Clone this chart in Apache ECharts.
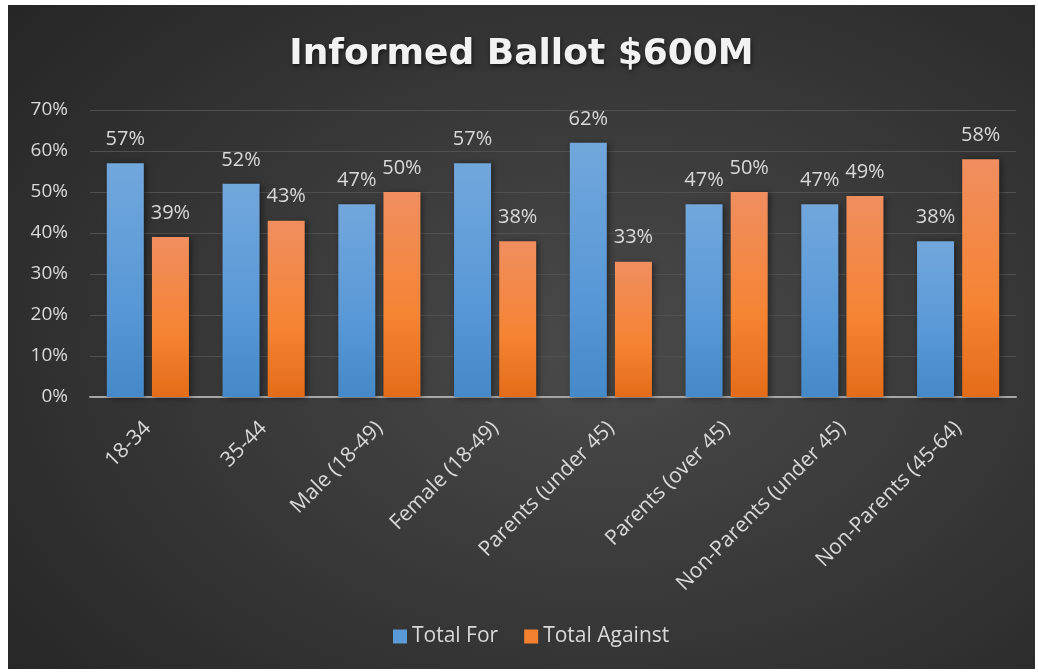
<!DOCTYPE html>
<html>
<head>
<meta charset="utf-8">
<script src="https://cdn.jsdelivr.net/npm/echarts@6/dist/echarts.min.js"></script>
<style>
  html, body { margin: 0; padding: 0; background: #fff; }
  #main {
    position: absolute; left: 8px; top: 5px; width: 1027px; height: 664px;
    background: radial-gradient(ellipse 75% 80% at 58% 52%, #4a4a4a 0%, #383838 50%, #262626 100%);
  }
</style>
</head>
<body>
<div id="main"></div>
<script>
  var categories = ['18-34', '35-44', 'Male (18-49)', 'Female (18-49)', 'Parents (under 45)',
    'Parents (over 45)', 'Non-Parents (under 45)', 'Non-Parents (45-64)'];
  var totalFor = [57, 52, 47, 57, 62, 47, 47, 38];
  var totalAgainst = [39, 43, 50, 38, 33, 50, 49, 58];
  var yTicks = [0, 10, 20, 30, 40, 50, 60, 70];

  var font = 'Open Sans';

  function vGrad(top, mid, bottom) {
    return new echarts.graphic.LinearGradient(0, 0, 0, 1, [
      { offset: 0, color: top },
      { offset: 0.6, color: mid },
      { offset: 1, color: bottom }
    ]);
  }

  var chart = echarts.init(document.getElementById('main'));

  var barLabel = {
    show: true,
    position: 'top',
    distance: 14,
    color: '#d9d9d9',
    fontFamily: font,
    fontSize: 20,
    formatter: '{c}%'
  };

  var option = {
    backgroundColor: 'transparent',
    animation: false,
    title: {
      text: 'Informed Ballot $600M',
      left: 'center',
      top: 27,
      textStyle: {
        color: '#f2f2f2',
        fontFamily: 'DejaVu Sans',
        fontWeight: 'bold',
        fontSize: 36,
        textShadowColor: 'rgba(0,0,0,0.6)',
        textShadowBlur: 4,
        textShadowOffsetX: 1,
        textShadowOffsetY: 2
      }
    },
    legend: {
      left: 385,
      top: 621,
      padding: 0,
      itemWidth: 14,
      itemHeight: 14,
      itemGap: 26,
      icon: 'rect',
      textStyle: { color: '#d9d9d9', fontFamily: font, fontSize: 21 },
      data: [
        { name: 'Total For', itemStyle: { color: '#5b9bd5' } },
        { name: 'Total Against', itemStyle: { color: '#f4812f' } }
      ]
    },
    grid: {
      left: 82,
      right: 19,
      top: 105,
      bottom: 272,
      containLabel: false
    },
    xAxis: {
      type: 'category',
      data: categories,
      axisLine: { show: true, lineStyle: { color: '#a6a6a6', width: 2 } },
      axisTick: { show: false },
      axisLabel: {
        interval: 0,
        rotate: 45,
        margin: 28,
        color: '#d9d9d9',
        fontFamily: font,
        fontSize: 21
      }
    },
    yAxis: {
      type: 'value',
      min: yTicks[0],
      max: yTicks[yTicks.length - 1],
      interval: 10,
      axisLine: { show: false },
      axisTick: { show: false },
      axisLabel: {
        color: '#d9d9d9',
        fontFamily: font,
        fontSize: 19,
        margin: 22,
        formatter: '{value}%'
      },
      splitLine: { lineStyle: { color: '#505050', width: 1 } }
    },
    series: [
      {
        name: 'Total For',
        type: 'bar',
        data: totalFor,
        barWidth: 37,
        barGap: '22%',
        itemStyle: {
          color: vGrad('#72a7dc', '#5898d6', '#4589c8'),
          shadowColor: 'rgba(0,0,0,0.45)',
          shadowBlur: 6,
          shadowOffsetX: 2,
          shadowOffsetY: 1
        },
        label: barLabel
      },
      {
        name: 'Total Against',
        type: 'bar',
        data: totalAgainst,
        barWidth: 37,
        itemStyle: {
          color: vGrad('#f08e60', '#f58433', '#e46c18'),
          shadowColor: 'rgba(0,0,0,0.45)',
          shadowBlur: 6,
          shadowOffsetX: 2,
          shadowOffsetY: 1
        },
        label: barLabel
      }
    ]
  };

  chart.setOption(option);
</script>
</body>
</html>
